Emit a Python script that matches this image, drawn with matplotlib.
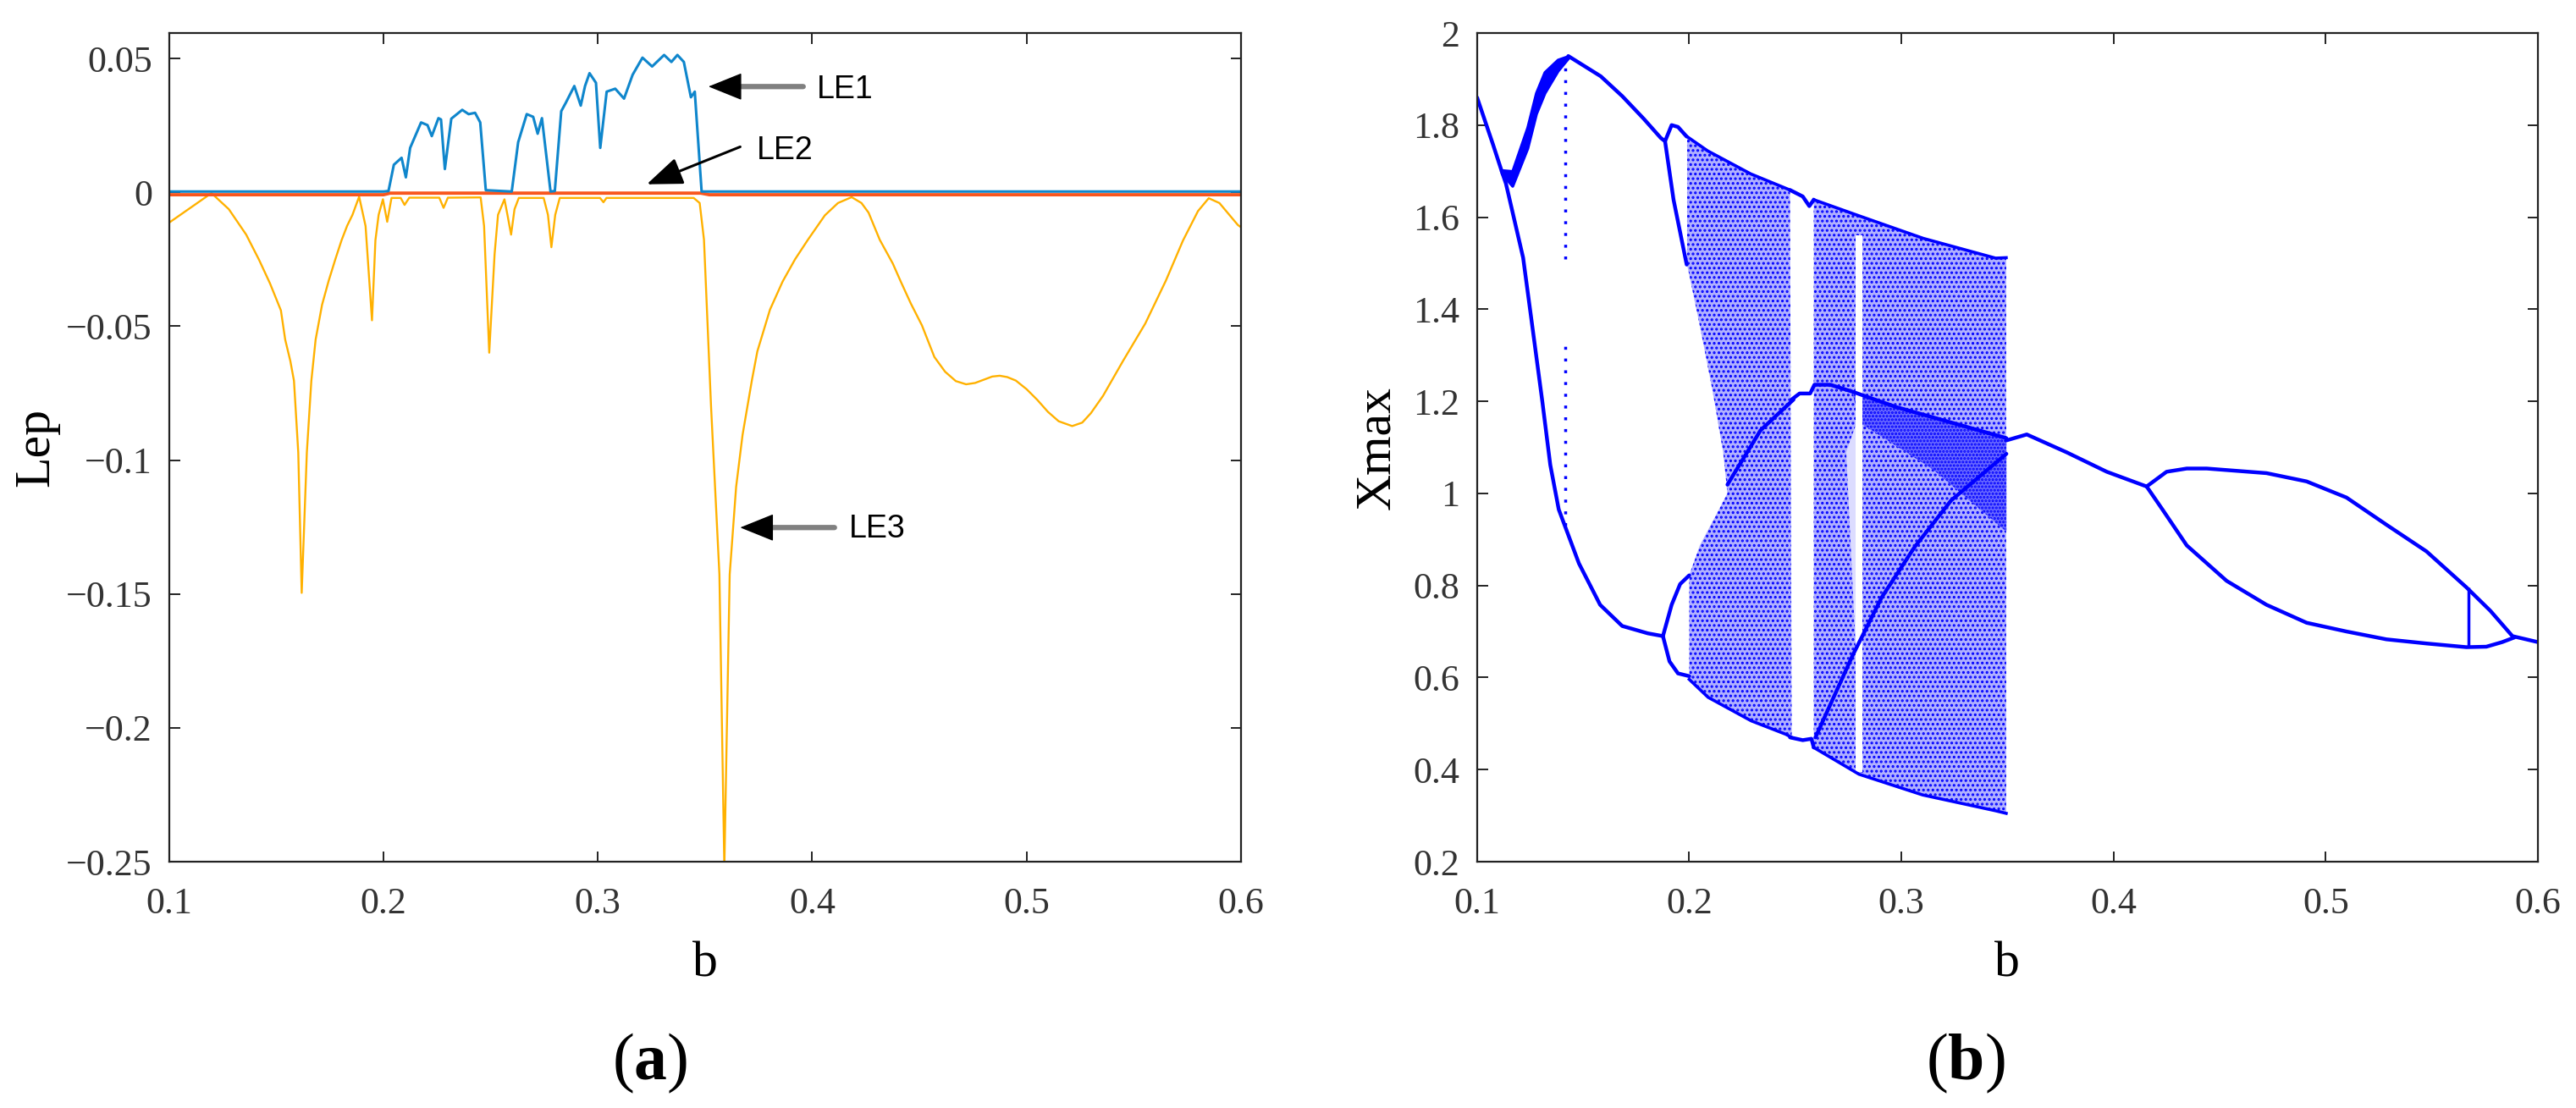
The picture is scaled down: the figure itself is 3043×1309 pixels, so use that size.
import matplotlib.pyplot as plt

plt.rcParams['font.family'] = ['Liberation Serif', 'DejaVu Serif']
plt.rcParams['mathtext.fontset'] = 'custom'
plt.rcParams['mathtext.rm'] = 'Liberation Serif'
plt.rcParams['mathtext.bf'] = 'Liberation Serif:bold'
plt.rcParams['hatch.linewidth'] = 1.5
plt.rcParams['hatch.color'] = '#0000ff'

# ---------------- (a) Lyapunov exponents ----------------
le1_b = [0.1, 0.2, 0.2023, 0.2048, 0.2084, 0.2104, 0.2124, 0.2175, 0.2205, 0.2225,
         0.2256, 0.2268, 0.2286, 0.2316, 0.2367, 0.2397, 0.2427, 0.2451, 0.2477, 0.2598,
         0.2628, 0.2668, 0.2698, 0.2719, 0.2739, 0.2749, 0.2779, 0.2799, 0.2829, 0.2850,
         0.2890, 0.2920, 0.2940, 0.2961, 0.2991, 0.3011, 0.3041, 0.3081, 0.3122, 0.3162,
         0.3208, 0.3253, 0.3309, 0.3343, 0.3371, 0.3401, 0.3434, 0.3452, 0.3484, 0.3500, 0.6]
le1 = [0.0003, 0.0003, 0.0005, 0.0103, 0.0129, 0.0056, 0.0166, 0.0261, 0.0251, 0.0210,
       0.0277, 0.0272, 0.0087, 0.0275, 0.0308, 0.0292, 0.0297, 0.0261, 0.0008, 0.0003,
       0.0187, 0.0292, 0.0282, 0.0219, 0.0277, 0.0208, 0.0003, 0.0005, 0.0303, 0.0334,
       0.0397, 0.0324, 0.0397, 0.0445, 0.0409, 0.0166, 0.0376, 0.0387, 0.0350, 0.0439,
       0.0503, 0.0470, 0.0513, 0.0487, 0.0513, 0.0487, 0.0355, 0.0376, 0.0003, 0.0003, 0.0003]

le2_b = [0.1, 0.2, 0.203, 0.348, 0.352, 0.6]
le2 = [-0.0009, -0.0009, -0.0003, -0.0003, -0.0009, -0.0009]

le3_b = [0.1000, 0.1197, 0.1278, 0.1359, 0.1419, 0.1470, 0.1521, 0.1541, 0.1565, 0.1582,
         0.1602, 0.1618, 0.1642, 0.1663, 0.1683, 0.1713, 0.1744, 0.1775, 0.1804, 0.1830,
         0.1855, 0.1886, 0.1916, 0.1946, 0.1962, 0.1977, 0.1997, 0.2017, 0.2037, 0.2080,
         0.2098, 0.2120, 0.2260, 0.2280, 0.2300, 0.2453, 0.2469, 0.2493, 0.2518, 0.2534,
         0.2564, 0.2578, 0.2595, 0.2611, 0.2631, 0.2747, 0.2767, 0.2783, 0.2801, 0.2822,
         0.3010, 0.3026, 0.3040, 0.3447, 0.3475, 0.3495, 0.3528, 0.3567, 0.3590, 0.3615,
         0.3645, 0.3675, 0.3719, 0.3744, 0.3803, 0.3862, 0.3920, 0.3980, 0.4059, 0.4120,
         0.4184, 0.4230, 0.4263, 0.4315, 0.4376, 0.4413, 0.4460, 0.4512, 0.4570, 0.4620,
         0.4670, 0.4718, 0.4760, 0.4800, 0.4840, 0.4875, 0.4910, 0.4950, 0.5000, 0.5050,
         0.5100, 0.5150, 0.5213, 0.5260, 0.5300, 0.5357, 0.5450, 0.5554, 0.5650, 0.5730,
         0.5800, 0.5850, 0.5900, 0.5986, 0.6000]
le3 = [-0.0113, -0.0003, -0.0063, -0.0158, -0.0252, -0.0340, -0.0441, -0.0550, -0.0630, -0.0704,
       -0.0972, -0.1496, -0.0972, -0.0704, -0.0550, -0.0420, -0.0330, -0.0250, -0.0179, -0.0125,
       -0.0084, -0.0016, -0.0126, -0.0478, -0.0179, -0.0084, -0.0026, -0.0110, -0.0021, -0.0021,
       -0.0047, -0.0020, -0.0020, -0.0058, -0.0020, -0.0019, -0.0126, -0.0599, -0.0231, -0.0084,
       -0.0026, -0.0084, -0.0158, -0.0063, -0.0021, -0.0021, -0.0084, -0.0205, -0.0084, -0.0021,
       -0.0021, -0.0037, -0.0021, -0.0021, -0.0040, -0.0177, -0.0800, -0.1427, -0.2520, -0.1427,
       -0.1100, -0.0906, -0.0700, -0.0594, -0.0438, -0.0333, -0.0250, -0.0177, -0.0086, -0.0040,
       -0.0018, -0.0040, -0.0076, -0.0177, -0.0266, -0.0333, -0.0415, -0.0497, -0.0615, -0.0670,
       -0.0705, -0.0717, -0.0712, -0.0700, -0.0688, -0.0685, -0.0690, -0.0703, -0.0735, -0.0775,
       -0.0820, -0.0855, -0.0873, -0.0860, -0.0825, -0.0760, -0.0630, -0.0490, -0.0330, -0.0180,
       -0.0070, -0.0022, -0.0040, -0.0122, -0.0130]

a_xticks = [0.1, 0.2, 0.3, 0.4, 0.5, 0.6]
a_xlabels = ['0.1', '0.2', '0.3', '0.4', '0.5', '0.6']
a_yticks = [-0.25, -0.2, -0.15, -0.1, -0.05, 0, 0.05]
a_ylabels = ['\u22120.25', '\u22120.2', '\u22120.15', '\u22120.1', '\u22120.05', '0', '0.05']

# ---------------- (b) bifurcation diagram ----------------
p1_b = [0.1, 0.1075, 0.1116]
p1_v = [1.86, 1.758, 1.70]

band_b = [0.1116, 0.1166, 0.1237, 0.1278, 0.1318, 0.1380, 0.1430]
band_hi = [1.702, 1.700, 1.795, 1.870, 1.915, 1.942, 1.950]
band_lo = [1.695, 1.668, 1.750, 1.825, 1.870, 1.918, 1.946]

up_b = [0.1430, 0.1583, 0.1684, 0.1785, 0.1866, 0.1886]
up_v = [1.950, 1.906, 1.863, 1.814, 1.772, 1.765]
bump_b = [0.1886, 0.1917, 0.1947, 0.1988]
bump_v = [1.765, 1.800, 1.796, 1.775]
drop_b = [0.1886, 0.1926, 0.1988]
drop_v = [1.765, 1.638, 1.497]

lo_b = [0.1116, 0.1136, 0.1217, 0.1258, 0.1308, 0.1345, 0.1385, 0.1480, 0.1580, 0.1684, 0.1805, 0.1876]
lo_v = [1.700, 1.673, 1.512, 1.371, 1.198, 1.062, 0.965, 0.848, 0.758, 0.712, 0.696, 0.690]
lo2a_b = [0.1876, 0.1917, 0.1957, 0.2000]
lo2a_v = [0.690, 0.758, 0.803, 0.822]
lo2b_b = [0.1876, 0.1907, 0.1947, 0.2000]
lo2b_v = [0.690, 0.635, 0.609, 0.603]

# transient dots at b = 0.1415
trans_b = [0.1415, 0.1415]
trans_lo = [1.51, 0.93]
trans_hi = [1.93, 1.335]

# chaotic band A (0.2 - 0.248)
chA_b = [0.1990, 0.2087, 0.2290, 0.2475, 0.2483, 0.2454, 0.2292, 0.2089, 0.2000, 0.2000,
         0.2050, 0.2110, 0.2180, 0.2160, 0.2110, 0.2047, 0.1990]
chA_v = [1.775, 1.744, 1.694, 1.659, 0.470, 0.477, 0.506, 0.557, 0.596, 0.822,
         0.887, 0.939, 1.000, 1.089, 1.223, 1.371, 1.497]
# chaotic band B (0.259 - 0.349)
chB_b = [0.2587, 0.2800, 0.3103, 0.3444, 0.3494, 0.3494, 0.3444, 0.3100, 0.2800, 0.2587]
chB_v = [1.638, 1.603, 1.554, 1.511, 1.512, 0.305, 0.3106, 0.345, 0.390, 0.448]
# envelopes of the chaotic bands
envA_up_b = [0.1990, 0.2087, 0.2290, 0.2475]
envA_up_v = [1.775, 1.744, 1.694, 1.659]
envA_lo_b = [0.2000, 0.2089, 0.2292, 0.2454, 0.2483]
envA_lo_v = [0.596, 0.557, 0.506, 0.477, 0.470]
envB_up_b = [0.2587, 0.2800, 0.3103, 0.3444, 0.3494]
envB_up_v = [1.638, 1.603, 1.554, 1.511, 1.512]
envB_lo_b = [0.2587, 0.2800, 0.3100, 0.3444, 0.3494]
envB_lo_v = [0.448, 0.390, 0.345, 0.3106, 0.305]
# periodic window inside band B
win_b = [0.2786, 0.2818, 0.2818, 0.2786]
win_v = [1.56, 1.56, 0.395, 0.395]
# thin lighter sliver next to the window
sliver_b = [0.2740, 0.2786, 0.2786]
sliver_v = [1.090, 1.150, 0.650]
# denser stripe inside band B
dense_b = [0.2769, 0.2976, 0.3235, 0.3495, 0.3495, 0.3149, 0.2803]
dense_v = [1.221, 1.1875, 1.154, 1.120, 0.917, 1.052, 1.154]

# dense curves inside chaos
inner_b = [0.2483, 0.2520, 0.2570, 0.2590, 0.2665, 0.2769, 0.2976, 0.3235, 0.3495]
inner_v = [1.204, 1.217, 1.217, 1.236, 1.236, 1.221, 1.1875, 1.154, 1.120]
rise_b = [0.2595, 0.2769, 0.2907, 0.3063, 0.3235, 0.3495]
rise_v = [0.470, 0.647, 0.774, 0.884, 0.985, 1.086]
diagA_b = [0.2180, 0.2336, 0.2492]
diagA_v = [1.019, 1.137, 1.204]
winup_b = [0.2475, 0.2535, 0.2566, 0.2587]
winup_v = [1.659, 1.645, 1.624, 1.638]
winlo_b = [0.2475, 0.2535, 0.2576, 0.2587]
winlo_v = [0.470, 0.464, 0.467, 0.448]

# periodic after chaos
post_b = [0.3494, 0.3591, 0.3780, 0.3968, 0.4156]
post_v = [1.115, 1.128, 1.089, 1.047, 1.015]
q_up_b = [0.4156, 0.4250, 0.4345, 0.4439, 0.4721, 0.4910, 0.5098, 0.5286, 0.5475, 0.5663, 0.5776, 0.5880, 0.6000]
q_up_v = [1.015, 1.047, 1.054, 1.054, 1.044, 1.026, 0.991, 0.932, 0.874, 0.796, 0.745, 0.690, 0.677]
q_lo_b = [0.4156, 0.4232, 0.4345, 0.4533, 0.4721, 0.4910, 0.5098, 0.5286, 0.5475, 0.5663, 0.5757, 0.5832, 0.5889]
q_lo_v = [1.015, 0.964, 0.887, 0.810, 0.758, 0.719, 0.700, 0.683, 0.674, 0.666, 0.667, 0.677, 0.687]
jump_b = 0.5672
jump_lo, jump_hi = 0.666, 0.796

b_yticks = [0.2, 0.4, 0.6, 0.8, 1.0, 1.2, 1.4, 1.6, 1.8, 2.0]
b_ylabels = ['0.2', '0.4', '0.6', '0.8', '1', '1.2', '1.4', '1.6', '1.8', '2']

c_le1 = '#0f86cc'
c_le2 = '#f8561e'
c_le3 = '#ffb100'
blue = '#0000ff'

fig = plt.figure(figsize=(30.43, 13.09), dpi=100)
ax1 = fig.add_axes([0.0657, 0.2223, 0.4160, 0.7479])
ax2 = fig.add_axes([0.5734, 0.2223, 0.4118, 0.7479])

ax1.plot(le3_b, le3, color=c_le3, lw=1.7)
ax1.plot(le2_b, le2, color=c_le2, lw=2.8)
ax1.plot(le1_b, le1, color=c_le1, lw=2.2)

# arrows and labels
ax1.annotate('', xy=(0.3560, 0.0395), xytext=(0.3958, 0.0395),
             arrowprops=dict(arrowstyle='-', color='#808080', lw=4.5, shrinkA=0, shrinkB=0))
ax1.annotate('', xy=(0.3516, 0.0395), xytext=(0.3620, 0.0395),
             arrowprops=dict(arrowstyle='-|>,head_length=2.6,head_width=1.05', color='black',
                             lw=1, shrinkA=0, shrinkB=0, mutation_scale=10))
ax1.annotate('', xy=(0.3228, 0.0030), xytext=(0.3664, 0.0170),
             arrowprops=dict(arrowstyle='-|>,head_length=2.6,head_width=1.0', color='black',
                             lw=2.2, shrinkA=0, shrinkB=0, mutation_scale=10))
ax1.annotate('', xy=(0.3710, -0.1252), xytext=(0.4104, -0.1252),
             arrowprops=dict(arrowstyle='-', color='#808080', lw=4.5, shrinkA=0, shrinkB=0))
ax1.annotate('', xy=(0.3664, -0.1252), xytext=(0.3770, -0.1252),
             arrowprops=dict(arrowstyle='-|>,head_length=2.6,head_width=1.05', color='black',
                             lw=1, shrinkA=0, shrinkB=0, mutation_scale=10))
lab_font = dict(family='Liberation Sans', fontsize=27, va='baseline', ha='left')
ax1.text(0.4020, 0.0353, 'LE1', **lab_font)
ax1.text(0.3740, 0.0125, 'LE2', **lab_font)
ax1.text(0.4171, -0.1288, 'LE3', **lab_font)

ax1.set_xlim(0.1, 0.6)
ax1.set_ylim(-0.25, 0.0595)
ax1.set_xticks(a_xticks, a_xlabels)
ax1.set_yticks(a_yticks, a_ylabels)
ax1.text(-0.113, 0.5, 'Lep', transform=ax1.transAxes, rotation=90, rotation_mode='anchor',
         ha='center', va='baseline', fontsize=43)
ax1.text(0.5, -0.138, 'b', transform=ax1.transAxes, ha='center', va='baseline', fontsize=43)

# bifurcation diagram: chaotic bands as dotted fills, branches as lines
for xs, ys in [(chA_b, chA_v), (chB_b, chB_v)]:
    ax2.fill(xs, ys, facecolor='#b0b0ff', edgecolor=blue, lw=0, hatch='...')
ax2.fill(dense_b, dense_v, facecolor='#6a6aff', edgecolor=blue, lw=0, hatch='....')
ax2.fill(sliver_b, sliver_v, facecolor='#dcdcff', edgecolor='none')
ax2.fill(win_b, win_v, facecolor='white', edgecolor='none')
ax2.fill_between(band_b, band_lo, band_hi, color=blue, lw=2.5)
for xs, ys in [(envA_up_b, envA_up_v), (envA_lo_b, envA_lo_v),
               (envB_up_b, envB_up_v), (envB_lo_b, envB_lo_v)]:
    ax2.plot(xs, ys, color=blue, lw=2.6)
for xs, ys in [(p1_b, p1_v), (up_b, up_v), (bump_b, bump_v), (drop_b, drop_v),
               (lo_b, lo_v), (lo2a_b, lo2a_v), (lo2b_b, lo2b_v), (inner_b, inner_v),
               (rise_b, rise_v), (diagA_b, diagA_v), (winup_b, winup_v), (winlo_b, winlo_v),
               (post_b, post_v), (q_up_b, q_up_v), (q_lo_b, q_lo_v)]:
    ax2.plot(xs, ys, color=blue, lw=3.2, solid_capstyle='round')
ax2.vlines(trans_b, trans_lo, trans_hi, colors=blue, linestyles=(0, (1, 3)), lw=2.5)
ax2.vlines(jump_b, jump_lo, jump_hi, colors=blue, lw=2.5)

ax2.set_xlim(0.1, 0.6)
ax2.set_ylim(0.2, 2.0)
ax2.set_xticks(a_xticks, a_xlabels)
ax2.set_yticks(b_yticks, b_ylabels)
ax2.text(-0.0825, 0.5, 'Xmax', transform=ax2.transAxes, rotation=90, rotation_mode='anchor',
         ha='center', va='baseline', fontsize=43)
ax2.text(0.5, -0.138, 'b', transform=ax2.transAxes, ha='center', va='baseline', fontsize=43)

for ax, ypad in [(ax1, 14.4), (ax2, 15.0)]:
    for s in ax.spines.values():
        s.set_linewidth(1.6)
        s.set_color('#222222')
    ax.tick_params(direction='in', length=9, width=1.4, top=True, right=True,
                   labelsize=31.7, colors='#222222')
    ax.tick_params(axis='x', pad=21.6)
    ax.tick_params(axis='y', pad=ypad)
    for lab in ax.get_xticklabels() + ax.get_yticklabels():
        lab.set_color('#333333')

fig.text(768 / 3043, 0.026, r'($\mathbf{a}$)', ha='center', va='baseline', fontsize=56)
fig.text(2322 / 3043, 0.026, r'($\mathbf{b}$)', ha='center', va='baseline', fontsize=56)

fig.savefig('out.png', dpi=100)
